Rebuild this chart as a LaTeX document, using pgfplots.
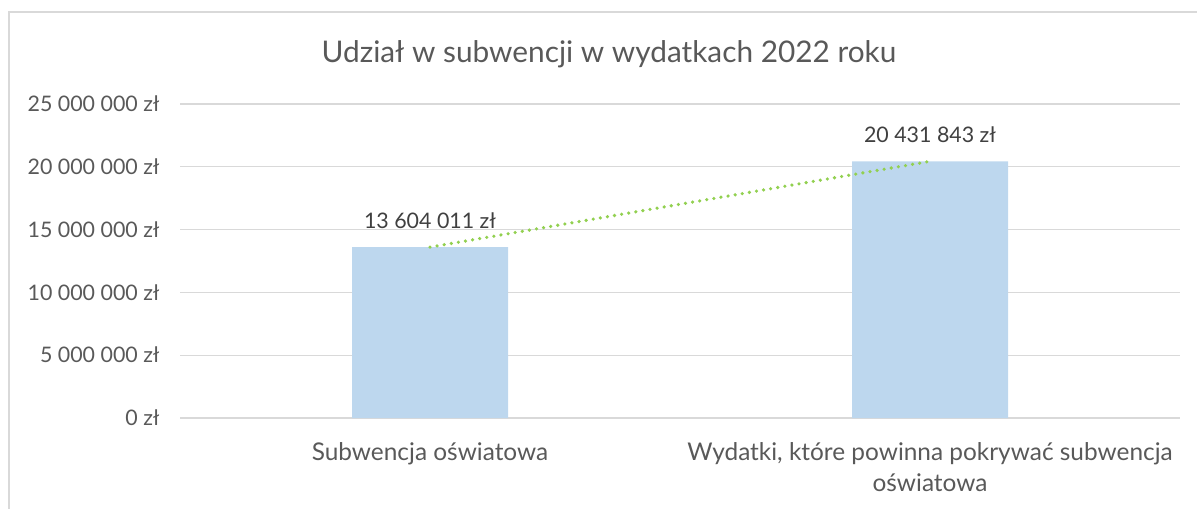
\documentclass[border=0pt]{standalone}
\usepackage{pgfplots}
\pgfplotsset{compat=1.18}
\usepackage{fontspec}
\setmainfont{Lato}
\definecolor{txt}{HTML}{595959}
\definecolor{lbl}{HTML}{404040}
\definecolor{grd}{HTML}{D9D9D9}
\definecolor{barc}{HTML}{BDD7EE}
\definecolor{trend}{HTML}{92D050}
\newcommand{\tickfont}{\fontsize{10.7}{12.75}\selectfont}
\newcommand{\catfont}{\fontsize{12.2}{14}\selectfont}
\begin{document}
\begin{tikzpicture}
\path[use as bounding box] (0,0) rectangle (598.5pt,254pt);
\draw[grd, line width=1pt] (4.5pt,-2pt) -- (4.5pt,248pt) -- (602pt,248pt);
\node[anchor=base, text=txt, inner sep=0pt, font=\fontsize{14.9}{17}\selectfont] at (304.5pt,222.5pt) {Udział w subwencji w wydatkach 2022 roku};
\begin{axis}[
  at={(90pt,45pt)}, anchor=south west, scale only axis,
  width=500pt, height=157pt,
  xmin=-0.5, xmax=1.5, ymin=0, ymax=25000000,
  scaled y ticks=false,
  axis line style={draw=none},
  major tick length=0pt,
  ymajorgrids, grid style={grd, line width=0.6pt},
  ytick={0,5000000,10000000,15000000,20000000,25000000},
  yticklabels={0 zł, 5 000 000 zł, 10 000 000 zł, 15 000 000 zł, 20 000 000 zł, 25 000 000 zł},
  yticklabel style={text=txt, font=\tickfont, inner sep=0pt, anchor=east, xshift=-10pt},
  xtick={0,1},
  xticklabels={Subwencja oświatowa, {Wydatki, które powinna pokrywać subwencja\\[1.5pt]oświatowa}},
  xticklabel style={text=txt, font=\catfont, align=center, inner sep=0pt, anchor=north, yshift=-12pt},
  clip=false,
]
\addplot[ybar, bar width=78pt, fill=barc, draw=none,
  point meta=explicit symbolic, nodes near coords,
  nodes near coords style={anchor=base, yshift=9.25pt, inner sep=0pt, text=lbl, font=\tickfont}]
  coordinates {(0,13604011) [13 604 011 zł] (1,20431843) [20 431 843 zł]};
\addplot[trend, line width=1.8pt, line cap=round, dash pattern=on 0pt off 3.6pt]
  coordinates {(0,13604011) (1,20431843)};
\end{axis}
\end{tikzpicture}
\end{document}
